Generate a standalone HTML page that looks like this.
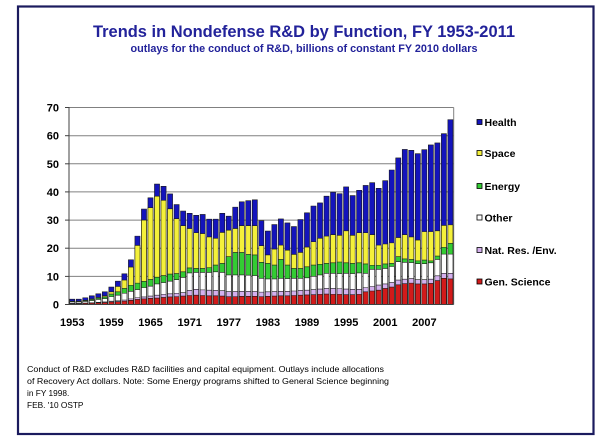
<!DOCTYPE html>
<html><head><meta charset="utf-8"><style>
html,body{margin:0;padding:0;background:#fff;}
svg{display:block;}
text{font-family:"Liberation Sans",Arial,sans-serif;}
.b{font-weight:bold;}
.bars path{stroke:#1a1a1a;stroke-width:0.6px;vector-effect:non-scaling-stroke;}
</style></head><body>
<svg width="616" height="440" viewBox="0 0 616 440" xmlns="http://www.w3.org/2000/svg">
<rect x="0" y="0" width="616" height="440" fill="#fff"/>
<rect x="18" y="6.5" width="575.5" height="427.5" fill="#fff" stroke="#1b1b5e" stroke-width="2.2"/>
<text class="b" x="304" y="37" font-size="16.4" fill="#22229a" text-anchor="middle" textLength="422" lengthAdjust="spacingAndGlyphs">Trends in Nondefense R&amp;D by Function, FY 1953-2011</text>
<text class="b" x="304" y="52" font-size="10.8" fill="#22229a" text-anchor="middle" textLength="347" lengthAdjust="spacingAndGlyphs">outlays for the conduct of R&amp;D, billions of constant FY 2010 dollars</text>

<g stroke="#808080" stroke-width="1">
<line x1="69" y1="276.4" x2="453.7" y2="276.4"/>
<line x1="69" y1="248.2" x2="453.7" y2="248.2"/>
<line x1="69" y1="220.1" x2="453.7" y2="220.1"/>
<line x1="69" y1="191.9" x2="453.7" y2="191.9"/>
<line x1="69" y1="163.8" x2="453.7" y2="163.8"/>
<line x1="69" y1="135.7" x2="453.7" y2="135.7"/>
<line x1="69" y1="107.5" x2="453.7" y2="107.5"/>
<line x1="453.7" y1="107.5" x2="453.7" y2="304.5"/>
</g>

<g class="bars" transform="translate(69 304.5) scale(6.52 -2.814)">
<path fill="#1414bc" d="M.11 0h.78v1.9h-.78zM1.11 0h.78v1.9h-.78zM2.11 0h.78v2.4h-.78zM3.11 0h.78v3.1h-.78zM4.11 0h.78v3.8h-.78zM5.11 0h.78v4.5h-.78zM6.11 0h.78v6.2h-.78zM7.11 0h.78v8.3h-.78zM8.11 0h.78v10.9h-.78zM9.11 0h.78v15.9h-.78zM10.11 0h.78v24.3h-.78zM11.11 0h.78v33.9h-.78zM12.11 0h.78v37.9h-.78zM13.11 0h.78v42.8h-.78zM14.11 0h.78v42h-.78zM15.11 0h.78v39.3h-.78zM16.11 0h.78v35.5h-.78zM17.11 0h.78v33.2h-.78zM18.11 0h.78v32.4h-.78zM19.11 0h.78v31.7h-.78zM20.11 0h.78v32h-.78zM21.11 0h.78v30.3h-.78zM22.11 0h.78v30.3h-.78zM23.11 0h.78v32.4h-.78zM24.11 0h.78v31.4h-.78zM25.11 0h.78v34.6h-.78zM26.11 0h.78v36.5h-.78zM27.11 0h.78v36.9h-.78zM28.11 0h.78v37.2h-.78zM29.11 0h.78v29.8h-.78zM30.11 0h.78v26.1h-.78zM31.11 0h.78v28.4h-.78zM32.11 0h.78v30.4h-.78zM33.11 0h.78v29h-.78zM34.11 0h.78v27.7h-.78zM35.11 0h.78v30.2h-.78zM36.11 0h.78v32.6h-.78zM37.11 0h.78v35h-.78zM38.11 0h.78v36.1h-.78zM39.11 0h.78v38.5h-.78zM40.11 0h.78v39.9h-.78zM41.11 0h.78v39.4h-.78zM42.11 0h.78v41.8h-.78zM43.11 0h.78v38.7h-.78zM44.11 0h.78v40.6h-.78zM45.11 0h.78v42.3h-.78zM46.11 0h.78v43.3h-.78zM47.11 0h.78v41.3h-.78zM48.11 0h.78v44h-.78zM49.11 0h.78v47.8h-.78zM50.11 0h.78v52.1h-.78zM51.11 0h.78v55.1h-.78zM52.11 0h.78v54.8h-.78zM53.11 0h.78v53.6h-.78zM54.11 0h.78v55h-.78zM55.11 0h.78v56.7h-.78zM56.11 0h.78v57.4h-.78zM57.11 0h.78v60.7h-.78zM58.11 0h.78v65.7h-.78z"/>
<path fill="#f4f03a" d="M.11 0h.78v1.2h-.78zM1.11 0h.78v1.2h-.78zM2.11 0h.78v1.5h-.78zM3.11 0h.78v2h-.78zM4.11 0h.78v2.5h-.78zM5.11 0h.78v3.1h-.78zM6.11 0h.78v4.5h-.78zM7.11 0h.78v6.4h-.78zM8.11 0h.78v8.7h-.78zM9.11 0h.78v13.3h-.78zM10.11 0h.78v21h-.78zM11.11 0h.78v30h-.78zM12.11 0h.78v34.4h-.78zM13.11 0h.78v38.5h-.78zM14.11 0h.78v37h-.78zM15.11 0h.78v34h-.78zM16.11 0h.78v30.5h-.78zM17.11 0h.78v28h-.78zM18.11 0h.78v27h-.78zM19.11 0h.78v25.5h-.78zM20.11 0h.78v25.2h-.78zM21.11 0h.78v24h-.78zM22.11 0h.78v23.5h-.78zM23.11 0h.78v25.6h-.78zM24.11 0h.78v26.4h-.78zM25.11 0h.78v27h-.78zM26.11 0h.78v28h-.78zM27.11 0h.78v28h-.78zM28.11 0h.78v28h-.78zM29.11 0h.78v20.9h-.78zM30.11 0h.78v17.6h-.78zM31.11 0h.78v19.7h-.78zM32.11 0h.78v21.1h-.78zM33.11 0h.78v19.3h-.78zM34.11 0h.78v17.8h-.78zM35.11 0h.78v18.5h-.78zM36.11 0h.78v20.4h-.78zM37.11 0h.78v22.3h-.78zM38.11 0h.78v23.5h-.78zM39.11 0h.78v24.3h-.78zM40.11 0h.78v24.8h-.78zM41.11 0h.78v24.6h-.78zM42.11 0h.78v26.2h-.78zM43.11 0h.78v24.6h-.78zM44.11 0h.78v25.5h-.78zM45.11 0h.78v25.5h-.78zM46.11 0h.78v24.8h-.78zM47.11 0h.78v21.1h-.78zM48.11 0h.78v21.5h-.78zM49.11 0h.78v21.9h-.78zM50.11 0h.78v23.8h-.78zM51.11 0h.78v24.8h-.78zM52.11 0h.78v24h-.78zM53.11 0h.78v22.9h-.78zM54.11 0h.78v25.9h-.78zM55.11 0h.78v25.9h-.78zM56.11 0h.78v26.2h-.78zM57.11 0h.78v28.1h-.78zM58.11 0h.78v28.3h-.78z"/>
<path fill="#33cc33" d="M.11 0h.78v1.1h-.78zM1.11 0h.78v1.1h-.78zM2.11 0h.78v1.4h-.78zM3.11 0h.78v1.8h-.78zM4.11 0h.78v2.3h-.78zM5.11 0h.78v2.7h-.78zM6.11 0h.78v3.7h-.78zM7.11 0h.78v4.5h-.78zM8.11 0h.78v5.7h-.78zM9.11 0h.78v6.8h-.78zM10.11 0h.78v7.6h-.78zM11.11 0h.78v8.2h-.78zM12.11 0h.78v8.9h-.78zM13.11 0h.78v9.7h-.78zM14.11 0h.78v10.3h-.78zM15.11 0h.78v10.8h-.78zM16.11 0h.78v11h-.78zM17.11 0h.78v11.6h-.78zM18.11 0h.78v13h-.78zM19.11 0h.78v12.8h-.78zM20.11 0h.78v12.8h-.78zM21.11 0h.78v13.1h-.78zM22.11 0h.78v14h-.78zM23.11 0h.78v14.6h-.78zM24.11 0h.78v17h-.78zM25.11 0h.78v18.5h-.78zM26.11 0h.78v18.5h-.78zM27.11 0h.78v17.8h-.78zM28.11 0h.78v17.6h-.78zM29.11 0h.78v15h-.78zM30.11 0h.78v14.6h-.78zM31.11 0h.78v14h-.78zM32.11 0h.78v16h-.78zM33.11 0h.78v14h-.78zM34.11 0h.78v12.8h-.78zM35.11 0h.78v12.8h-.78zM36.11 0h.78v13.4h-.78zM37.11 0h.78v14h-.78zM38.11 0h.78v14.3h-.78zM39.11 0h.78v14.6h-.78zM40.11 0h.78v14.8h-.78zM41.11 0h.78v15.1h-.78zM42.11 0h.78v14.8h-.78zM43.11 0h.78v14.6h-.78zM44.11 0h.78v14.8h-.78zM45.11 0h.78v14.4h-.78zM46.11 0h.78v13.9h-.78zM47.11 0h.78v13.9h-.78zM48.11 0h.78v14.4h-.78zM49.11 0h.78v14.6h-.78zM50.11 0h.78v17h-.78zM51.11 0h.78v16.2h-.78zM52.11 0h.78v16h-.78zM53.11 0h.78v15.5h-.78zM54.11 0h.78v15.8h-.78zM55.11 0h.78v15.5h-.78zM56.11 0h.78v17.2h-.78zM57.11 0h.78v20.3h-.78zM58.11 0h.78v21.7h-.78z"/>
<path fill="#ffffff" d="M.11 0h.78v.9h-.78zM1.11 0h.78v.9h-.78zM2.11 0h.78v1.1h-.78zM3.11 0h.78v1.4h-.78zM4.11 0h.78v1.8h-.78zM5.11 0h.78v2.1h-.78zM6.11 0h.78v2.8h-.78zM7.11 0h.78v3.3h-.78zM8.11 0h.78v4h-.78zM9.11 0h.78v4.7h-.78zM10.11 0h.78v5.3h-.78zM11.11 0h.78v6h-.78zM12.11 0h.78v6.5h-.78zM13.11 0h.78v7.3h-.78zM14.11 0h.78v7.8h-.78zM15.11 0h.78v8.3h-.78zM16.11 0h.78v8.8h-.78zM17.11 0h.78v9.6h-.78zM18.11 0h.78v11.2h-.78zM19.11 0h.78v11.4h-.78zM20.11 0h.78v11.4h-.78zM21.11 0h.78v11.4h-.78zM22.11 0h.78v11.6h-.78zM23.11 0h.78v11.4h-.78zM24.11 0h.78v10.5h-.78zM25.11 0h.78v10.5h-.78zM26.11 0h.78v10.5h-.78zM27.11 0h.78v10.4h-.78zM28.11 0h.78v10.3h-.78zM29.11 0h.78v9.3h-.78zM30.11 0h.78v9.1h-.78zM31.11 0h.78v9.1h-.78zM32.11 0h.78v9.3h-.78zM33.11 0h.78v9.2h-.78zM34.11 0h.78v9.3h-.78zM35.11 0h.78v9.3h-.78zM36.11 0h.78v9.5h-.78zM37.11 0h.78v10h-.78zM38.11 0h.78v10.5h-.78zM39.11 0h.78v11.1h-.78zM40.11 0h.78v11.1h-.78zM41.11 0h.78v11h-.78zM42.11 0h.78v11.1h-.78zM43.11 0h.78v11h-.78zM44.11 0h.78v11.2h-.78zM45.11 0h.78v11.1h-.78zM46.11 0h.78v12.5h-.78zM47.11 0h.78v12.5h-.78zM48.11 0h.78v12.8h-.78zM49.11 0h.78v13.5h-.78zM50.11 0h.78v15.2h-.78zM51.11 0h.78v15h-.78zM52.11 0h.78v14.9h-.78zM53.11 0h.78v14.5h-.78zM54.11 0h.78v14.5h-.78zM55.11 0h.78v14.8h-.78zM56.11 0h.78v16h-.78zM57.11 0h.78v17.9h-.78zM58.11 0h.78v17.9h-.78z"/>
<path fill="#d4b0ee" d="M.11 0h.78v.4h-.78zM1.11 0h.78v.4h-.78zM2.11 0h.78v.5h-.78zM3.11 0h.78v.6h-.78zM4.11 0h.78v.8h-.78zM5.11 0h.78v.9h-.78zM6.11 0h.78v1.2h-.78zM7.11 0h.78v1.3h-.78zM8.11 0h.78v1.6h-.78zM9.11 0h.78v2h-.78zM10.11 0h.78v2.4h-.78zM11.11 0h.78v2.7h-.78zM12.11 0h.78v3h-.78zM13.11 0h.78v3.3h-.78zM14.11 0h.78v3.6h-.78zM15.11 0h.78v3.8h-.78zM16.11 0h.78v4h-.78zM17.11 0h.78v4.2h-.78zM18.11 0h.78v5h-.78zM19.11 0h.78v5.4h-.78zM20.11 0h.78v5.2h-.78zM21.11 0h.78v5.1h-.78zM22.11 0h.78v5h-.78zM23.11 0h.78v4.9h-.78zM24.11 0h.78v4.6h-.78zM25.11 0h.78v4.6h-.78zM26.11 0h.78v4.7h-.78zM27.11 0h.78v4.7h-.78zM28.11 0h.78v4.6h-.78zM29.11 0h.78v4.4h-.78zM30.11 0h.78v4.5h-.78zM31.11 0h.78v4.6h-.78zM32.11 0h.78v4.7h-.78zM33.11 0h.78v4.7h-.78zM34.11 0h.78v4.8h-.78zM35.11 0h.78v5h-.78zM36.11 0h.78v5.1h-.78zM37.11 0h.78v5.3h-.78zM38.11 0h.78v5.5h-.78zM39.11 0h.78v5.7h-.78zM40.11 0h.78v5.7h-.78zM41.11 0h.78v5.6h-.78zM42.11 0h.78v5.5h-.78zM43.11 0h.78v5.4h-.78zM44.11 0h.78v5.4h-.78zM45.11 0h.78v6h-.78zM46.11 0h.78v6.4h-.78zM47.11 0h.78v6.9h-.78zM48.11 0h.78v7.3h-.78zM49.11 0h.78v7.8h-.78zM50.11 0h.78v8.7h-.78zM51.11 0h.78v9h-.78zM52.11 0h.78v9.2h-.78zM53.11 0h.78v8.8h-.78zM54.11 0h.78v8.8h-.78zM55.11 0h.78v9h-.78zM56.11 0h.78v10.2h-.78zM57.11 0h.78v11.1h-.78zM58.11 0h.78v11.1h-.78z"/>
<path fill="#d21a1a" d="M.11 0h.78v.3h-.78zM1.11 0h.78v.3h-.78zM2.11 0h.78v.4h-.78zM3.11 0h.78v.5h-.78zM4.11 0h.78v.6h-.78zM5.11 0h.78v.7h-.78zM6.11 0h.78v.9h-.78zM7.11 0h.78v1h-.78zM8.11 0h.78v1.2h-.78zM9.11 0h.78v1.5h-.78zM10.11 0h.78v1.8h-.78zM11.11 0h.78v2h-.78zM12.11 0h.78v2.2h-.78zM13.11 0h.78v2.3h-.78zM14.11 0h.78v2.5h-.78zM15.11 0h.78v2.7h-.78zM16.11 0h.78v2.8h-.78zM17.11 0h.78v3h-.78zM18.11 0h.78v3.2h-.78zM19.11 0h.78v3.3h-.78zM20.11 0h.78v3.2h-.78zM21.11 0h.78v3.1h-.78zM22.11 0h.78v3.1h-.78zM23.11 0h.78v3h-.78zM24.11 0h.78v2.8h-.78zM25.11 0h.78v2.8h-.78zM26.11 0h.78v2.9h-.78zM27.11 0h.78v2.9h-.78zM28.11 0h.78v2.9h-.78zM29.11 0h.78v2.8h-.78zM30.11 0h.78v2.9h-.78zM31.11 0h.78v3h-.78zM32.11 0h.78v3.1h-.78zM33.11 0h.78v3.1h-.78zM34.11 0h.78v3.2h-.78zM35.11 0h.78v3.3h-.78zM36.11 0h.78v3.4h-.78zM37.11 0h.78v3.5h-.78zM38.11 0h.78v3.6h-.78zM39.11 0h.78v3.7h-.78zM40.11 0h.78v3.6h-.78zM41.11 0h.78v3.6h-.78zM42.11 0h.78v3.5h-.78zM43.11 0h.78v3.5h-.78zM44.11 0h.78v3.6h-.78zM45.11 0h.78v4.5h-.78zM46.11 0h.78v4.8h-.78zM47.11 0h.78v5.1h-.78zM48.11 0h.78v5.7h-.78zM49.11 0h.78v6.2h-.78zM50.11 0h.78v7h-.78zM51.11 0h.78v7.4h-.78zM52.11 0h.78v7.6h-.78zM53.11 0h.78v7.3h-.78zM54.11 0h.78v7.3h-.78zM55.11 0h.78v7.5h-.78zM56.11 0h.78v8.5h-.78zM57.11 0h.78v9.3h-.78zM58.11 0h.78v9.1h-.78z"/>
</g>

<g stroke="#404040" stroke-width="1">
<line x1="69" y1="107" x2="69" y2="304.5"/>
<line x1="69" y1="304.5" x2="453.7" y2="304.5"/>
<line x1="65" y1="304.5" x2="69" y2="304.5"/>
<line x1="65" y1="276.4" x2="69" y2="276.4"/>
<line x1="65" y1="248.2" x2="69" y2="248.2"/>
<line x1="65" y1="220.1" x2="69" y2="220.1"/>
<line x1="65" y1="191.9" x2="69" y2="191.9"/>
<line x1="65" y1="163.8" x2="69" y2="163.8"/>
<line x1="65" y1="135.7" x2="69" y2="135.7"/>
<line x1="65" y1="107.5" x2="69" y2="107.5"/>
</g>

<g class="b" font-size="11" text-anchor="end" fill="#000">
<text x="59" y="308.5">0</text>
<text x="59" y="280.4">10</text>
<text x="59" y="252.2">20</text>
<text x="59" y="224.1">30</text>
<text x="59" y="195.9">40</text>
<text x="59" y="167.8">50</text>
<text x="59" y="139.7">60</text>
<text x="59" y="111.5">70</text>
</g>
<g class="b" font-size="11" text-anchor="middle" fill="#000">
<text x="72.3" y="326">1953</text>
<text x="111.4" y="326">1959</text>
<text x="150.5" y="326">1965</text>
<text x="189.7" y="326">1971</text>
<text x="228.8" y="326">1977</text>
<text x="267.9" y="326">1983</text>
<text x="307" y="326">1989</text>
<text x="346.1" y="326">1995</text>
<text x="385.3" y="326">2001</text>
<text x="424.4" y="326">2007</text>
</g>

<g stroke="#000" stroke-width="0.8">
<rect x="477" y="119.5" width="5" height="5" fill="#1414bc"/>
<rect x="477" y="150.5" width="5" height="5" fill="#f4f03a"/>
<rect x="477" y="183.5" width="5" height="5" fill="#33cc33"/>
<rect x="477" y="215" width="5" height="5" fill="#ffffff"/>
<rect x="477" y="247.5" width="5" height="5" fill="#d4b0ee"/>
<rect x="477" y="279" width="5" height="5" fill="#d21a1a"/>
</g>
<g class="b" font-size="10.5" fill="#000">
<text x="484.5" y="126">Health</text>
<text x="484.5" y="157">Space</text>
<text x="484.5" y="190">Energy</text>
<text x="484.5" y="221.5">Other</text>
<text x="484.5" y="254">Nat. Res. /Env.</text>
<text x="484.5" y="285.5">Gen. Science</text>
</g>

<g font-size="8.3" fill="#000">
<text x="27" y="372" textLength="357" lengthAdjust="spacingAndGlyphs">Conduct of R&amp;D excludes R&amp;D facilities and capital equipment. Outlays include allocations</text>
<text x="27" y="384" textLength="362" lengthAdjust="spacingAndGlyphs">of Recovery Act dollars. Note: Some Energy programs shifted to General Science beginning</text>
<text x="27" y="396">in FY 1998.</text>
<text x="27" y="408">FEB. '10 OSTP</text>
</g>
</svg>
</body></html>
